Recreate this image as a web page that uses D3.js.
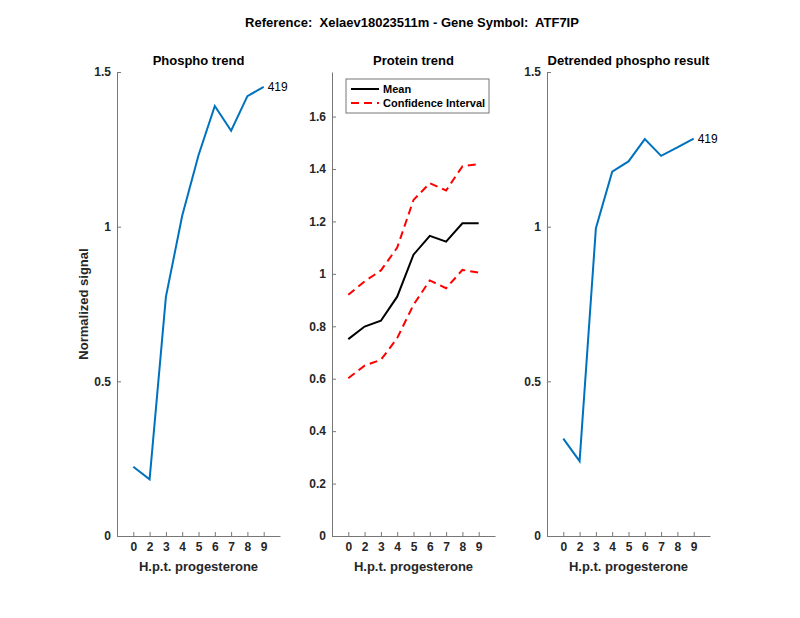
<!DOCTYPE html>
<html>
<head>
<meta charset="utf-8">
<script src="https://cdn.jsdelivr.net/npm/d3@7"></script>
<style>
  body { margin: 0; background: #fff; }
  text { font-family: "Liberation Sans", Arial, sans-serif; white-space: pre; }
</style>
</head>
<body>
<div id="chart"></div>
<script>
// Data
// ================================
var hours = ["0", "2", "3", "4", "5", "6", "7", "8", "9"];
var phospho = [0.224, 0.183, 0.773, 1.035, 1.231, 1.390, 1.310, 1.422, 1.452];
var proteinMean = [0.751, 0.799, 0.821, 0.913, 1.073, 1.145, 1.123, 1.193, 1.193];
var proteinUpper = [0.920, 0.971, 1.013, 1.100, 1.282, 1.346, 1.318, 1.410, 1.419];
var proteinLower = [0.602, 0.650, 0.672, 0.755, 0.882, 0.975, 0.945, 1.015, 1.005];
var detrended = [0.315, 0.242, 0.995, 1.178, 1.211, 1.283, 1.229, 1.256, 1.285];
var siteLabel = "419";
var phosphoTicks = [0, 0.5, 1, 1.5];
var proteinTicks = [0, 0.2, 0.4, 0.6, 0.8, 1, 1.2, 1.4, 1.6];

// Set up chart
// ================================
var svgWidth = 800;
var svgHeight = 618;
var plotTop = 72, plotBottom = 536;
var panelWidth = 163;
var panelLefts = [117, 332, 547];

var svg = d3.select("#chart")
  .append("svg")
  .attr("width", svgWidth)
  .attr("height", svgHeight);

svg.append("text")
  .attr("x", 412)
  .attr("y", 27)
  .attr("text-anchor", "middle")
  .attr("font-size", "13px")
  .attr("font-weight", "bold")
  .attr("fill", "#000")
  .text("Reference:  Xelaev18023511m - Gene Symbol:  ATF7IP");

var blue = "#0072BD";

function makePanel(left, title, yMax, yTicks) {
  var g = svg.append("g").attr("transform", `translate(${left}, 0)`);
  var x = d3.scaleLinear().domain([0, hours.length + 1]).range([0, panelWidth]);
  var y = d3.scaleLinear().domain([0, yMax]).range([plotBottom, plotTop]);

  var xAxis = d3.axisBottom(x)
    .tickValues(d3.range(1, hours.length + 1))
    .tickFormat(i => hours[i - 1])
    .tickSizeInner(-4).tickSizeOuter(0).tickPadding(6);
  var yAxis = d3.axisLeft(y)
    .tickValues(yTicks)
    .tickFormat(d3.format("~g"))
    .tickSizeInner(-4).tickSizeOuter(0).tickPadding(6);

  var ax = g.append("g").attr("transform", `translate(0, ${plotBottom})`).call(xAxis);
  var ay = g.append("g").call(yAxis);
  [ax, ay].forEach(function (a) {
    a.select(".domain").attr("stroke", "#777");
    a.selectAll(".tick line").attr("stroke", "#777");
    a.selectAll(".tick text")
      .attr("fill", "#262626")
      .attr("font-size", "12px")
      .attr("font-weight", "bold")
      .attr("font-family", "Liberation Sans, Arial, sans-serif");
  });

  g.append("text")
    .attr("x", panelWidth / 2)
    .attr("y", plotTop - 7)
    .attr("text-anchor", "middle")
    .attr("font-size", "13px")
    .attr("font-weight", "bold")
    .text(title);

  g.append("text")
    .attr("x", panelWidth / 2)
    .attr("y", 571)
    .attr("text-anchor", "middle")
    .attr("font-size", "13px")
    .attr("font-weight", "bold")
    .attr("fill", "#262626")
    .text("H.p.t. progesterone");

  return { g: g, x: x, y: y };
}

function drawLine(p, values, color, dash) {
  var line = d3.line().x((d, i) => p.x(i + 1)).y(d => p.y(d));
  p.g.append("path")
    .datum(values)
    .attr("fill", "none")
    .attr("stroke", color)
    .attr("stroke-width", 2)
    .attr("stroke-dasharray", dash || null)
    .attr("d", line);
}

// Phospho trend
var p1 = makePanel(panelLefts[0], "Phospho trend", 1.5, phosphoTicks);
drawLine(p1, phospho, blue);
p1.g.append("text")
  .attr("x", p1.x(hours.length) + 4)
  .attr("y", p1.y(phospho[phospho.length - 1]) + 4)
  .attr("font-size", "12px")
  .text(siteLabel);
p1.g.append("text")
  .attr("transform", "rotate(-90)")
  .attr("x", -(plotTop + plotBottom) / 2)
  .attr("y", -29)
  .attr("text-anchor", "middle")
  .attr("font-size", "13px")
  .attr("font-weight", "bold")
  .attr("fill", "#262626")
  .text("Normalized signal");

// Protein trend
var p2 = makePanel(panelLefts[1], "Protein trend", 1.77, proteinTicks);
drawLine(p2, proteinUpper, "#FF0000", "8,5");
drawLine(p2, proteinLower, "#FF0000", "8,5");
drawLine(p2, proteinMean, "#000");

var legend = p2.g.append("g").attr("transform", "translate(14, 79)");
legend.append("rect")
  .attr("width", 143).attr("height", 34)
  .attr("fill", "#fff").attr("stroke", "#777");
legend.append("line")
  .attr("x1", 5).attr("x2", 33).attr("y1", 10).attr("y2", 10)
  .attr("stroke", "#000").attr("stroke-width", 2);
legend.append("line")
  .attr("x1", 5).attr("x2", 33).attr("y1", 24).attr("y2", 24)
  .attr("stroke", "#FF0000").attr("stroke-width", 2).attr("stroke-dasharray", "8,5");
legend.append("text").attr("x", 37).attr("y", 14)
  .attr("font-size", "11px").attr("font-weight", "bold").text("Mean");
legend.append("text").attr("x", 37).attr("y", 28)
  .attr("font-size", "11px").attr("font-weight", "bold").text("Confidence Interval");

// Detrended phospho result
var p3 = makePanel(panelLefts[2], "Detrended phospho result", 1.5, phosphoTicks);
drawLine(p3, detrended, blue);
p3.g.append("text")
  .attr("x", p3.x(hours.length) + 4)
  .attr("y", p3.y(detrended[detrended.length - 1]) + 4)
  .attr("font-size", "12px")
  .text(siteLabel);
</script>
</body>
</html>
